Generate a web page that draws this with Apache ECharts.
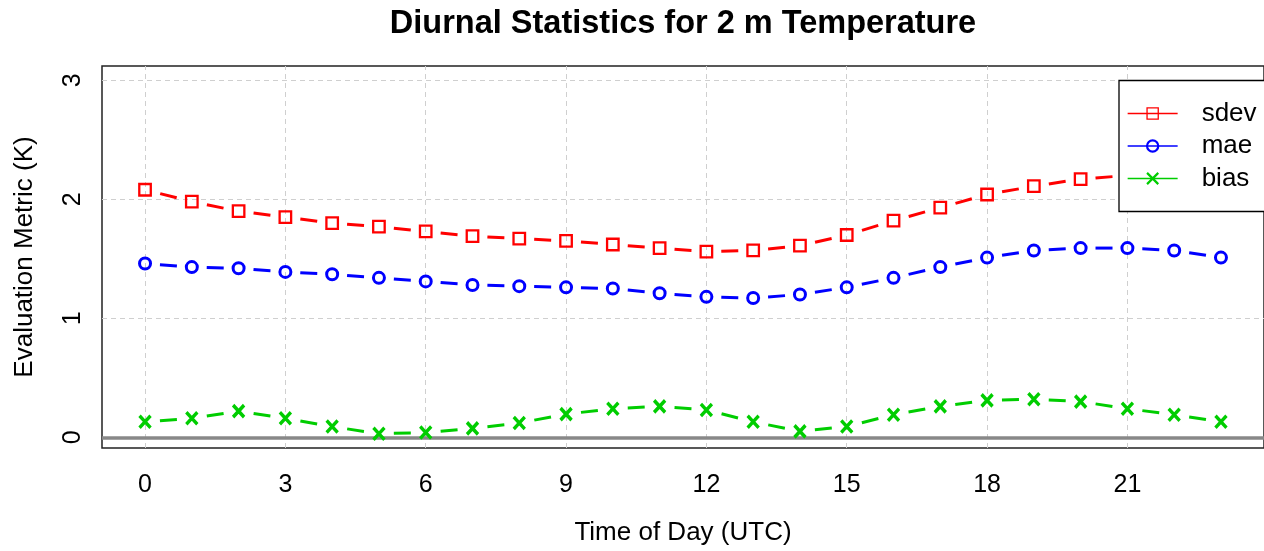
<!DOCTYPE html>
<html>
<head>
<meta charset="utf-8">
<script src="https://cdn.jsdelivr.net/npm/echarts@6/dist/echarts.min.js"></script>
<style>
html,body{margin:0;padding:0;background:#fff;}
#chart{width:1264px;height:551px;}
</style>
</head>
<body>
<div id="chart"></div>
<script>
const hours = [0,1,2,3,4,5,6,7,8,9,10,11,12,13,14,15,16,17,18,19,20,21,22,23];
const sdev = [2.08,1.98,1.90,1.85,1.80,1.77,1.73,1.69,1.67,1.65,1.62,1.59,1.56,1.57,1.61,1.70,1.82,1.93,2.04,2.11,2.17,2.20,2.21,2.19];
const mae  = [1.46,1.43,1.42,1.39,1.37,1.34,1.31,1.28,1.27,1.26,1.25,1.21,1.18,1.17,1.20,1.26,1.34,1.43,1.51,1.57,1.59,1.59,1.57,1.51];
const bias = [0.13,0.16,0.22,0.16,0.09,0.03,0.04,0.075,0.12,0.195,0.24,0.26,0.23,0.13,0.05,0.09,0.19,0.26,0.31,0.32,0.30,0.24,0.19,0.13];
const xTicks = [0,3,6,9,12,15,18,21];
const yTicks = [0,1,2,3];

const FONT = "'Liberation Sans', Arial, Helvetica, sans-serif";
const RED = '#ff0000', BLUE = '#0000ff', GREEN = '#00cd00';
const CROSS = 'path://M0,0L10,10M10,0L0,10';
const DASH = 17;

function pts(vals){ return vals.map((v,i)=>[hours[i], v]); }
function segs(vals){ return vals.slice(0,-1).map((v,i)=>[hours[i], v, hours[i+1], vals[i+1]]); }

function segSeries(name, vals, color){
  return {
    type:'custom', name:name, data:segs(vals), z:2, silent:true,
    encode:{x:[0,2], y:[1,3]},
    renderItem:function(params, api){
      const p0 = api.coord([api.value(0), api.value(1)]);
      const p1 = api.coord([api.value(2), api.value(3)]);
      const dx = p1[0]-p0[0], dy = p1[1]-p0[1];
      const L = Math.hypot(dx, dy); const ux = dx/L, uy = dy/L;
      const mx = (p0[0]+p1[0])/2, my = (p0[1]+p1[1])/2, h = DASH/2;
      return {type:'line', shape:{x1:mx-ux*h, y1:my-uy*h, x2:mx+ux*h, y2:my+uy*h},
        style:{stroke:color, lineWidth:3, lineCap:'butt'}};
    }
  };
}

function markSeries(name, vals, color, symbol, size, bw){
  return {
    type:'line', name:name, data:pts(vals), z:2,
    symbol:symbol, symbolSize:size, showSymbol:true, showAllSymbol:true,
    lineStyle:{color:color, width:1.3, opacity:0},
    itemStyle:{color:'rgba(0,0,0,0)', borderColor:color, borderWidth:bw},
    emphasis:{disabled:true}
  };
}

const gridLineData = xTicks.map(v=>({xAxis:v})).concat(yTicks.map(v=>({yAxis:v})));
gridLineData.push({yAxis:0, lineStyle:{type:'solid', color:'#888888', width:3.5}});

const option = {
  animation:false,
  backgroundColor:'#ffffff',
  title:{
    text:'Diurnal Statistics for 2 m Temperature',
    left:678, top:3, textAlign:'center',
    textStyle:{fontFamily:FONT, fontSize:32.5, fontWeight:'bold', color:'#000'}
  },
  grid:{left:102, top:66, width:1163, height:384, show:true, borderColor:'#222', borderWidth:1.5, backgroundColor:'transparent'},
  xAxis:{
    type:'value', min:-0.92, max:23.92,
    name:'Time of Day (UTC)', nameLocation:'middle', nameGap:72,
    nameTextStyle:{fontFamily:FONT, fontSize:26, color:'#000'},
    axisLine:{show:false}, axisTick:{show:false}, splitLine:{show:false},
    axisLabel:{customValues:xTicks, fontFamily:FONT, fontSize:25, color:'#000', margin:25}
  },
  yAxis:{
    type:'value', min:-0.09, max:3.12,
    name:'Evaluation Metric (K)', nameLocation:'middle', nameGap:64, nameRotate:90,
    nameTextStyle:{fontFamily:FONT, fontSize:26, color:'#000'},
    axisLine:{show:false}, axisTick:{show:false}, splitLine:{show:false},
    axisLabel:{customValues:yTicks, rotate:90, fontFamily:FONT, fontSize:25, color:'#000', margin:16}
  },
  legend:{
    orient:'vertical', left:1119, top:80.5, z:20, zlevel:0,
    padding:[20,40,20,8], itemWidth:50, itemHeight:14, itemGap:6.5,
    backgroundColor:'#ffffff', borderColor:'#000', borderWidth:1.3, borderRadius:0,
    textStyle:{fontFamily:FONT, fontSize:26, lineHeight:26, color:'#000', padding:[0,0,0,19]},
    lineStyle:{opacity:1, width:1.3, type:'solid'},
    data:[
      {name:'sdev', itemStyle:{borderWidth:1.3}},
      {name:'mae', itemStyle:{borderWidth:2.2}},
      {name:'bias', itemStyle:{borderWidth:2.2}}
    ],
    selectedMode:false
  },
  series:[
    {type:'line', name:'grid', data:[], z:1, silent:true,
     markLine:{silent:true, z:1, animation:false, symbol:['none','none'], label:{show:false},
       lineStyle:{type:[5,4], color:'#cfcfcf', width:1},
       emphasis:{disabled:true}, data:gridLineData}},
    segSeries('sdev-seg', sdev, RED),
    segSeries('mae-seg', mae, BLUE),
    segSeries('bias-seg', bias, GREEN),
    markSeries('sdev', sdev, RED, 'rect', 11.5, 2.3),
    markSeries('mae', mae, BLUE, 'circle', 11, 3),
    markSeries('bias', bias, GREEN, CROSS, [11,12], 3.5)
  ]
};

const chart = echarts.init(document.getElementById('chart'), null, {renderer:'canvas'});
chart.setOption(option);
</script>
</body>
</html>
